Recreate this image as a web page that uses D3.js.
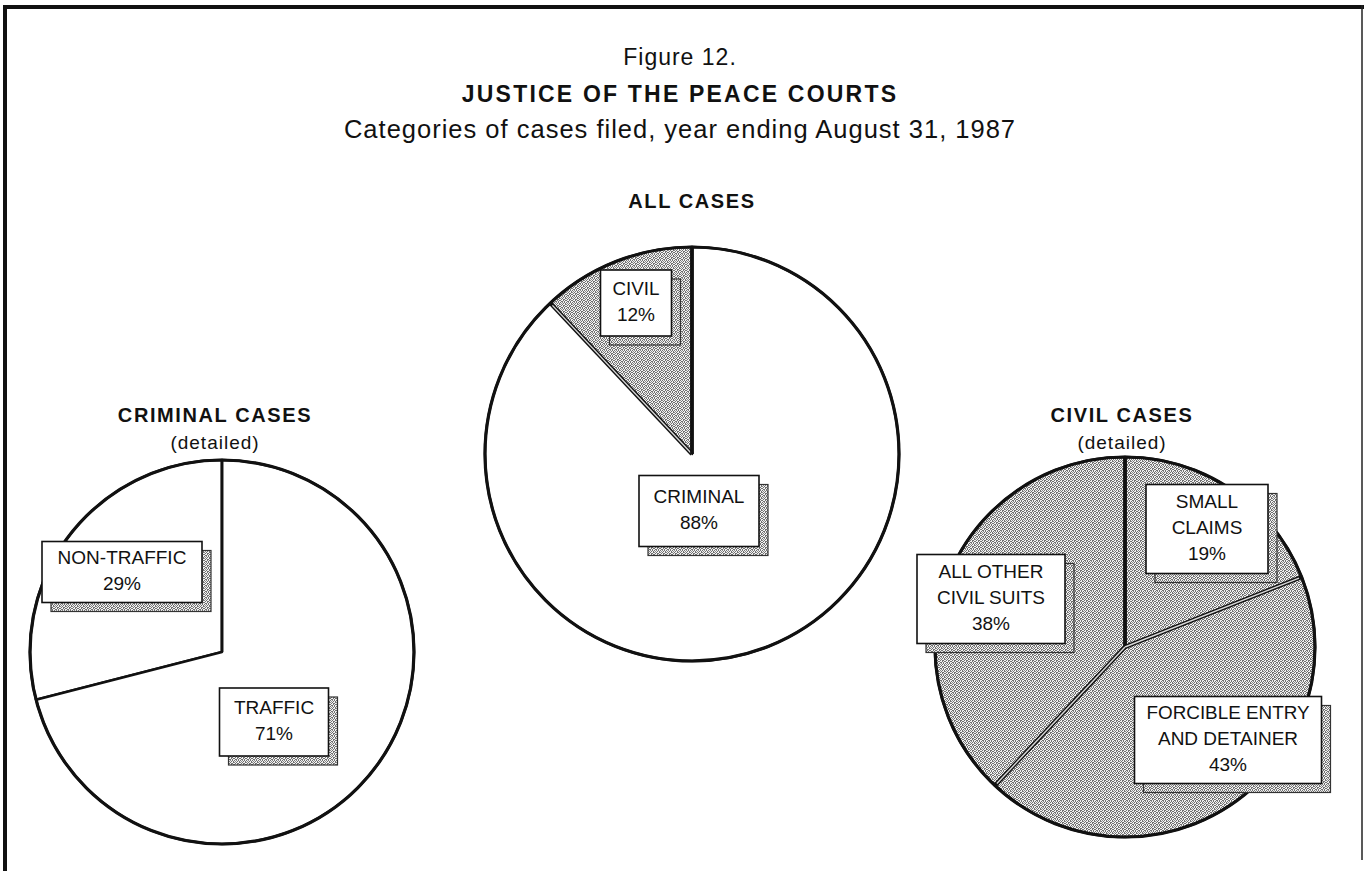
<!DOCTYPE html>
<html>
<head>
<meta charset="utf-8">
<script src="https://cdn.jsdelivr.net/npm/d3@7"></script>
<style>
  html, body { margin: 0; padding: 0; background: #fff; }
  svg { display: block; }
  text { font-family: "Liberation Sans", Arial, Helvetica, sans-serif; fill: #111; }
</style>
</head>
<body>
<svg id="chart" width="1365" height="871"></svg>
<script>
// Case shares, percent of filings
const allCategories = ["CIVIL", "CRIMINAL"];
const allValues = [12, 88];

const criminalCategories = ["NON-TRAFFIC", "TRAFFIC"];
const criminalValues = [29, 71];

const civilCategories = ["SMALL CLAIMS", "FORCIBLE ENTRY AND DETAINER", "ALL OTHER CIVIL SUITS"];
const civilValues = [19, 43, 38];

// Label text broken into lines for the boxed callouts
const allLabelLines = [["CIVIL"], ["CRIMINAL"]];
const criminalLabelLines = [["NON-TRAFFIC"], ["TRAFFIC"]];
const civilLabelLines = [["SMALL", "CLAIMS"], ["FORCIBLE ENTRY", "AND DETAINER"], ["ALL OTHER", "CIVIL SUITS"]];

const titleLines = ["Figure 12.", "JUSTICE OF THE PEACE COURTS", "Categories of cases filed, year ending August 31, 1987"];

const svg = d3.select("#chart");
const W = 1365, H = 871;

// Halftone-like stipple used for shaded slices and box shadows
const stippleRows = [
  "X.X..X",
  ".X.XX.",
  "X..X.X",
  ".XX.X.",
  "X.X.X.",
  ".X.X.X"
];
const defs = svg.append("defs");
const pat = defs.append("pattern")
  .attr("id", "stipple")
  .attr("patternUnits", "userSpaceOnUse")
  .attr("width", 6).attr("height", 6);
pat.append("rect").attr("width", 6).attr("height", 6).attr("fill", "#f1f1f1");
stippleRows.forEach((row, y) => {
  row.split("").forEach((c, x) => {
    if (c === "X") {
      pat.append("rect").attr("x", x).attr("y", y).attr("width", 1).attr("height", 1)
        .attr("fill", (x + y) % 3 === 0 ? "#8a8a8a" : "#707070");
    }
  });
});

// Frame: heavy top and left rules, light right rule
svg.append("line").attr("x1", 3).attr("x2", 1364).attr("y1", 7).attr("y2", 7)
  .attr("stroke", "#111").attr("stroke-width", 4);
svg.append("line").attr("x1", 5).attr("x2", 5).attr("y1", 5).attr("y2", H)
  .attr("stroke", "#111").attr("stroke-width", 4);
svg.append("line").attr("x1", 1362).attr("x2", 1362).attr("y1", 5).attr("y2", 860)
  .attr("stroke", "#222").attr("stroke-width", 1.5);

// Titles
const cx = 680;
svg.append("text").attr("x", cx).attr("y", 65).attr("text-anchor", "middle")
  .style("font-size", "23px").style("letter-spacing", "1px").text(titleLines[0]);
svg.append("text").attr("x", cx).attr("y", 102).attr("text-anchor", "middle")
  .style("font-size", "23px").style("font-weight", "bold").style("letter-spacing", "2.2px").text(titleLines[1]);
svg.append("text").attr("x", cx).attr("y", 138).attr("text-anchor", "middle")
  .style("font-size", "25.5px").style("letter-spacing", "1px").text(titleLines[2]);

function drawPie(cfg) {
  const total = d3.sum(cfg.values);
  const start = cfg.leadCounterClockwise ? -cfg.values[0] / total * 2 * Math.PI : 0;
  const pie = d3.pie().sort(null).value(d => d)
    .startAngle(start).endAngle(start + 2 * Math.PI);
  const arcs = pie(cfg.values);
  const arc = d3.arc().innerRadius(0).outerRadius(cfg.r);
  const anyShaded = cfg.shaded.some(s => s);

  const g = svg.append("g").attr("transform", `translate(${cfg.cx},${cfg.cy})`);

  g.selectAll("path.slice").data(arcs).join("path")
    .attr("class", "slice")
    .attr("d", arc)
    .attr("fill", (d, i) => cfg.shaded[i] ? "url(#stipple)" : "#fff")
    .attr("stroke", "#111")
    .attr("stroke-width", 2.5)
    .attr("stroke-linejoin", "round");

  // Radial edges: the edge at twelve o'clock is a solid heavy rule,
  // the others on shaded pies read as a double rule
  arcs.forEach(a => {
    const ang = a.startAngle;
    const x2 = Math.sin(ang) * cfg.r, y2 = -Math.cos(ang) * cfg.r;
    const norm = ((ang % (2 * Math.PI)) + 2 * Math.PI) % (2 * Math.PI);
    const isTop = Math.min(norm, 2 * Math.PI - norm) < 1e-6;
    if (isTop) {
      g.append("line").attr("x1", 0).attr("y1", 0).attr("x2", x2).attr("y2", y2)
        .attr("stroke", "#111").attr("stroke-width", anyShaded ? 3.8 : 2.6);
    } else if (anyShaded) {
      g.append("line").attr("x1", 0).attr("y1", 0).attr("x2", x2).attr("y2", y2)
        .attr("stroke", "#111").attr("stroke-width", 4.2);
      g.append("line").attr("x1", 0).attr("y1", 0).attr("x2", x2 * 0.985).attr("y2", y2 * 0.985)
        .attr("stroke", "#d8d8d8").attr("stroke-width", 1.4);
    }
  });

  g.append("circle").attr("r", cfg.r).attr("fill", "none")
    .attr("stroke", "#111").attr("stroke-width", 3.2);

  // Heading above the pie
  svg.append("text").attr("x", cfg.cx + cfg.headDx).attr("y", cfg.headY)
    .attr("text-anchor", "middle")
    .style("font-size", "20px").style("font-weight", "bold").style("letter-spacing", "1.6px")
    .text(cfg.heading);
  if (cfg.sub) {
    svg.append("text").attr("x", cfg.cx + cfg.headDx).attr("y", cfg.headY + 27)
      .attr("text-anchor", "middle")
      .style("font-size", "19px").style("letter-spacing", "1px")
      .text(cfg.sub);
  }

  // Boxed callouts with offset shaded shadows
  const pitch = 26, fs = 19, shadow = 9;
  arcs.forEach((a, i) => {
    const box = cfg.boxes[i];
    const bx = cfg.cx + box.dx - box.w / 2;
    const by = cfg.cy + box.dy - box.h / 2;
    svg.append("rect")
      .attr("x", bx + shadow).attr("y", by + shadow)
      .attr("width", box.w).attr("height", box.h)
      .attr("fill", "url(#stipple)").attr("stroke", "#333").attr("stroke-width", 1.2);
    svg.append("rect")
      .attr("x", bx).attr("y", by)
      .attr("width", box.w).attr("height", box.h)
      .attr("fill", "#fff").attr("stroke", "#111").attr("stroke-width", 1.6);
    const lines = cfg.labels[i].concat([cfg.values[i] + "%"]);
    const firstBase = cfg.cy + box.dy - (lines.length - 1) * pitch / 2 + fs * 0.36 - 2;
    lines.forEach((ln, j) => {
      const t = svg.append("text")
        .attr("x", cfg.cx + box.dx).attr("y", firstBase + j * pitch)
        .attr("text-anchor", "middle")
        .style("font-size", fs + "px")
        .text(ln);
      const maxW = box.w - 24;
      if (t.node().getComputedTextLength() > maxW) {
        t.attr("textLength", maxW).attr("lengthAdjust", "spacingAndGlyphs");
      }
    });
  });
}

drawPie({
  values: allValues, labels: allLabelLines,
  cx: 692, cy: 454, r: 207, leadCounterClockwise: true,
  shaded: [true, false],
  heading: "ALL CASES", headY: 208, headDx: 0,
  boxes: [
    { dx: -56, dy: -151, w: 71, h: 66 },
    { dx: 7, dy: 57, w: 120, h: 71 }
  ]
});

drawPie({
  values: criminalValues, labels: criminalLabelLines,
  cx: 222, cy: 652, r: 192, leadCounterClockwise: true,
  shaded: [false, false],
  heading: "CRIMINAL  CASES", headY: 422, headDx: -7, sub: "(detailed)",
  boxes: [
    { dx: -100, dy: -80, w: 160, h: 61 },
    { dx: 52, dy: 70, w: 109, h: 68 }
  ]
});

drawPie({
  values: civilValues, labels: civilLabelLines,
  cx: 1125, cy: 647, r: 190, leadCounterClockwise: false,
  shaded: [true, true, true],
  heading: "CIVIL CASES", headY: 422, headDx: -3, sub: "(detailed)",
  boxes: [
    { dx: 82, dy: -118, w: 122, h: 89 },
    { dx: 103, dy: 93, w: 187, h: 87 },
    { dx: -134, dy: -48, w: 148, h: 89 }
  ]
});
</script>
</body>
</html>
